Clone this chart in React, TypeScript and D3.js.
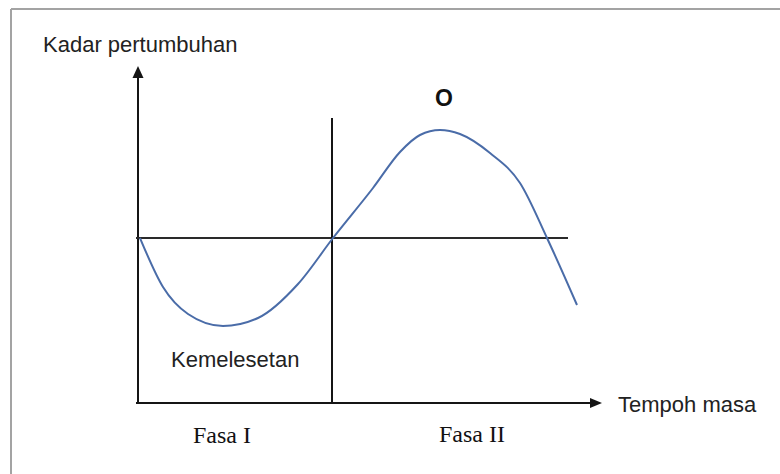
import React from "react";
import * as d3 from "d3";

// Time (x) and growth rate (y) readings of the curve
const curveTime = [2, 25, 50, 85, 120, 160, 195, 235, 262, 282, 302, 322, 352, 382, 409, 439];
const curveGrowth = [0, -49, -76, -88, -80, -46, 0, 50, 86, 103, 108, 104, 85, 55, 0, -67];

const phaseBoundary = 194; // time where Fasa I ends
const zeroLineEnd = 430;
const axisMaxTime = 464;
const axisMinGrowth = -165;
const axisMaxGrowth = 172;
const dividerTop = 118;

const yLabel = "Kadar pertumbuhan";
const xLabel = "Tempoh masa";
const phaseLabels = ["Fasa I", "Fasa II"];
const troughLabel = "Kemelesetan";
const peakLabel = "O";

export default function App() {
  const x = d3.scaleLinear().domain([0, axisMaxTime]).range([138, 602]);
  const y = d3.scaleLinear().domain([axisMinGrowth, axisMaxGrowth]).range([403, 66]);
  const pts: [number, number][] = curveTime.map((t, i) => [x(t), y(curveGrowth[i])]);
  const line = d3.line().curve(d3.curveMonotoneX);
  const sans = "'Liberation Sans', Arial, sans-serif";
  const serif = "'Liberation Serif', 'Times New Roman', serif";
  const axisColor = "#151515";

  return (
    <svg width={780} height={474} style={{ position: "absolute", left: 0, top: 0, background: "#fff" }}>
      {/* frame */}
      <line x1={11} y1={9} x2={780} y2={9} stroke="#a3a3a3" strokeWidth={2} />
      <line x1={11} y1={9} x2={11} y2={474} stroke="#a3a3a3" strokeWidth={2} />

      {/* y axis */}
      <line x1={x(0)} y1={y(axisMinGrowth)} x2={x(0)} y2={y(axisMaxGrowth) + 10} stroke={axisColor} strokeWidth={2} />
      <path
        d={`M${x(0)},${y(axisMaxGrowth)} L${x(0) - 5.5},${y(axisMaxGrowth) + 12} L${x(0) + 5.5},${y(axisMaxGrowth) + 12} Z`}
        fill={axisColor}
      />
      {/* x axis */}
      <line x1={x(0) - 2} y1={y(axisMinGrowth)} x2={x(axisMaxTime) - 10} y2={y(axisMinGrowth)} stroke={axisColor} strokeWidth={2} />
      <path
        d={`M${x(axisMaxTime)},${y(axisMinGrowth)} L${x(axisMaxTime) - 12},${y(axisMinGrowth) - 5} L${x(axisMaxTime) - 12},${y(axisMinGrowth) + 5} Z`}
        fill={axisColor}
      />
      {/* zero line */}
      <line x1={x(0) - 2} y1={y(0)} x2={x(zeroLineEnd)} y2={y(0)} stroke="#2a2a2a" strokeWidth={2} />
      {/* phase divider */}
      <line x1={x(phaseBoundary)} y1={y(axisMinGrowth)} x2={x(phaseBoundary)} y2={dividerTop} stroke={axisColor} strokeWidth={2} />

      {/* curve */}
      <path d={line(pts) || ""} fill="none" stroke="#4a6ca8" strokeWidth={2} />

      {/* texts */}
      <text x={43} y={52} fontFamily={sans} fontSize={22} fill="#222">{yLabel}</text>
      <text x={444} y={106} fontFamily={sans} fontSize={23} fontWeight="bold" fill="#111" textAnchor="middle">{peakLabel}</text>
      <text x={171} y={367} fontFamily={sans} fontSize={22} fill="#222">{troughLabel}</text>
      <text x={618} y={412} fontFamily={sans} fontSize={22} fill="#222">{xLabel}</text>
      <text x={193} y={443} fontFamily={serif} fontSize={24} fill="#111">{phaseLabels[0]}</text>
      <text x={439} y={442} fontFamily={serif} fontSize={24} fill="#111">{phaseLabels[1]}</text>
    </svg>
  );
}
